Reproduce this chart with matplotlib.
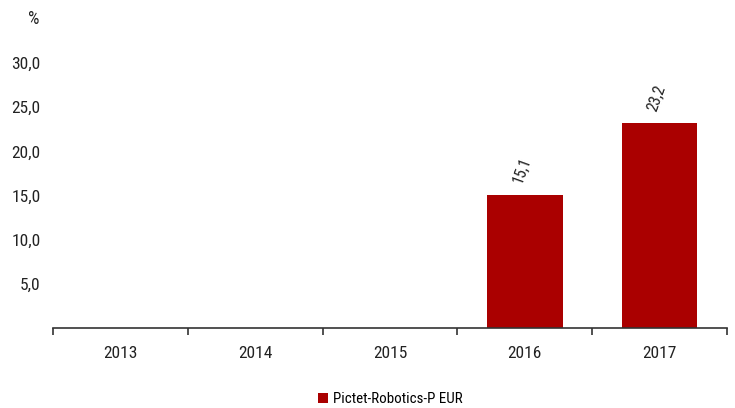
import matplotlib
matplotlib.use("Agg")
import matplotlib.pyplot as plt
import numpy as np

years = ["2013", "2014", "2015", "2016", "2017"]
values = [np.nan, np.nan, np.nan, 15.1, 23.2]
series_name = "Pictet-Robotics-P EUR"
yticks = [5, 10, 15, 20, 25, 30]

plt.rcParams['font.family'] = ['Roboto Condensed', 'Archivo Narrow', 'DejaVu Sans']
color = "#AA0000"
tc = "#222222"

fig = plt.figure(figsize=(7.35, 4.08), dpi=100)
ax = fig.add_axes([53/735, 1-328/408, (727-53)/735, (328-19)/408])
x = np.arange(len(years))
bars = ax.bar(x, values, width=0.56, color=color, label=series_name)
for xi, v in zip(x, values):
    if not np.isnan(v):
        ax.text(xi - 0.02, v + 1.1, f"{v:.1f}".replace(".", ","), rotation=70,
                ha="center", va="bottom", fontsize=11.5, color=tc)

ax.set_xlim(-0.5, len(years) - 0.5)
ax.set_ylim(0, 35)
ax.set_yticks(yticks)
ax.set_yticklabels([f"{t:.1f}".replace(".", ",") for t in yticks], fontsize=12.5, color=tc)
ax.tick_params(axis="y", length=0, pad=9)
ax.set_xticks(x)
ax.set_xticklabels(years, fontsize=12.5, color=tc)
ax.tick_params(axis="x", length=0, pad=13)
ax.set_xticks(np.arange(-0.5, len(years)), minor=True)
ax.tick_params(axis="x", which="minor", length=5, width=1.2, color="#333333")
for s in ["top", "right", "left"]:
    ax.spines[s].set_visible(False)
ax.spines["bottom"].set_linewidth(1.2)
ax.spines["bottom"].set_color("#333333")
ax.text(-0.02, 1.0, "%", transform=ax.transAxes, ha="right", va="center", fontsize=13, color=tc)

fig.legend(handles=[bars], labels=[series_name], loc="center", bbox_to_anchor=(390/735, 1-399/408),
           frameon=False, fontsize=10.8, handlelength=0.7, handleheight=0.7, handletextpad=0.3)
fig.savefig("out.png", dpi=100)
